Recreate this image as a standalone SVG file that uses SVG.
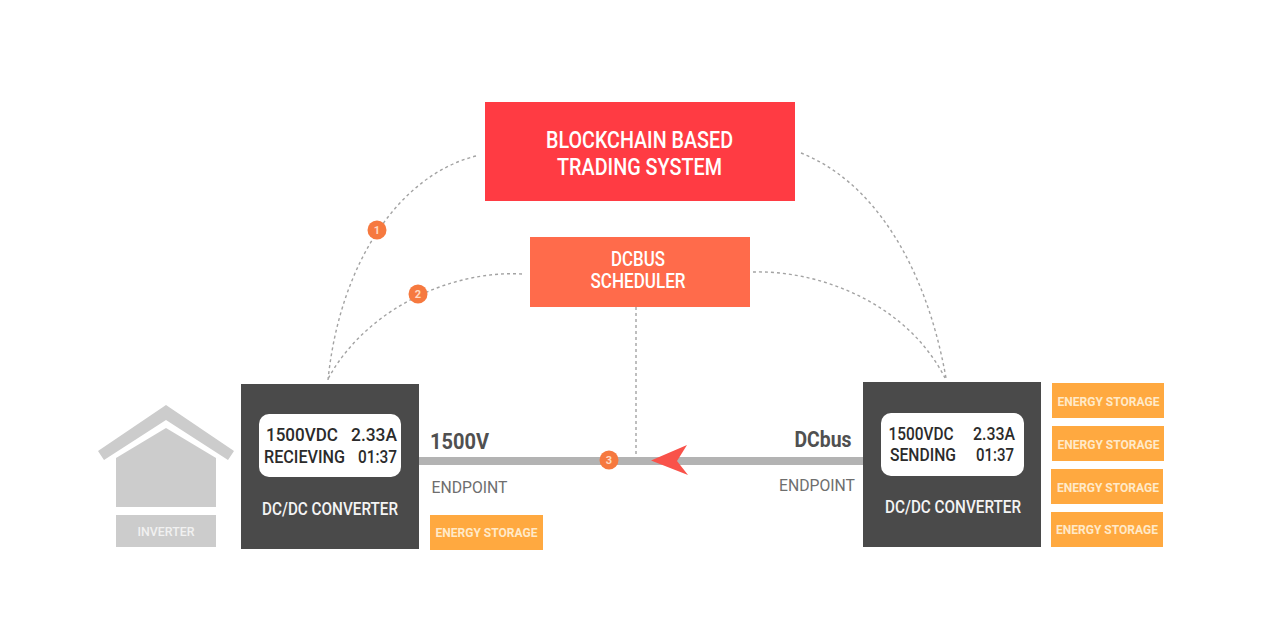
<svg xmlns="http://www.w3.org/2000/svg" width="1280" height="640" viewBox="0 0 1280 640">
<style>
text{font-family:"Roboto","Liberation Sans",sans-serif;text-anchor:middle;font-weight:500}
.w{fill:#fff}
.st{fill:#ffa940}
.stt{fill:#ffe9c9;font-size:12.5px;font-weight:700}
.dk{fill:#4a4a4a}
.scr{fill:#2b2b2b;font-size:18.500px}
.t{fill:#f4f4f4;font-size:18px}
.ep{fill:#6e6e6e;font-size:17px;font-weight:400}
.lab{fill:#505050;font-size:22px;font-weight:700}
.big{fill:#fff;font-size:23px}
.n{fill:#ffd9c2;font-size:11px;font-weight:700}
.c{fill:#f6793f}
.d{fill:none;stroke:#a3a3a3;stroke-width:1.4;stroke-dasharray:3 3}
</style>
<rect width="1280" height="640" fill="#fff"/>
<g id="connectors">
<path class="d" d="M476 156C400 175 340 262 328 380"/>
<path class="d" d="M522 274C450 270 365 310 328 379"/>
<path class="d" d="M801 153C870 180 925 260 946 378"/>
<path class="d" d="M753 272C815 270 905 300 945 378"/>
<path class="d" d="M636 307V457"/>
<rect x="419" y="457" width="444" height="8" fill="#b3b3b3"/>
<path d="M651 460.500L687 445L677 461L688 475Z" fill="#f9524a"/>
</g>
<g id="trading">
<rect x="485" y="102" width="310" height="99" fill="#ff3b43"/>
<text class="big" x="639.500" y="148" textLength="187" lengthAdjust="spacingAndGlyphs">BLOCKCHAIN BASED</text>
<text class="big" x="639.500" y="175" textLength="165" lengthAdjust="spacingAndGlyphs">TRADING SYSTEM</text>
</g>
<g id="scheduler">
<rect x="530" y="237" width="220" height="70" fill="#ff6b4b"/>
<text class="w" x="638" y="266" font-size="19.500" textLength="54" lengthAdjust="spacingAndGlyphs">DCBUS</text>
<text class="w" x="638" y="288" font-size="19.500" textLength="95" lengthAdjust="spacingAndGlyphs">SCHEDULER</text>
</g>
<g id="badge1"><circle class="c" cx="377" cy="230" r="9.500"/><text class="n" x="377" y="234">1</text></g>
<g id="badge2"><circle class="c" cx="418" cy="294" r="9.500"/><text class="n" x="418" y="298">2</text></g>
<g id="badge3"><circle class="c" cx="609" cy="460" r="9.500"/><text class="n" x="609" y="464">3</text></g>
<g id="house">
<path d="M98 451L166 405L234 451L228 460L166 420L104 460Z" fill="#cccccc"/>
<path d="M116 507V458L166 428L216 458V507Z" fill="#cccccc"/>
</g>
<g id="inverter">
<rect x="116" y="515" width="100" height="32" fill="#cccccc"/>
<text x="166" y="536" font-size="13" fill="#f1f1f1" textLength="57" lengthAdjust="spacingAndGlyphs">INVERTER</text>
</g>
<g id="left-converter">
<rect class="dk" x="241" y="384" width="178" height="165"/>
<rect x="259" y="414" width="142" height="63" rx="10" fill="#fff"/>
<text class="scr" x="302" y="441" textLength="72" lengthAdjust="spacingAndGlyphs">1500VDC</text>
<text class="scr" x="374" y="441" textLength="46" lengthAdjust="spacingAndGlyphs">2.33A</text>
<text class="scr" x="304.500" y="463" textLength="81" lengthAdjust="spacingAndGlyphs">RECIEVING</text>
<text class="scr" x="377.500" y="463" textLength="39" lengthAdjust="spacingAndGlyphs">01:37</text>
<text class="t" x="330" y="515" textLength="136" lengthAdjust="spacingAndGlyphs">DC/DC CONVERTER</text>
</g>
<g id="right-converter">
<rect class="dk" x="863" y="382" width="178" height="165"/>
<rect x="881" y="413" width="143" height="63" rx="10" fill="#fff"/>
<text class="scr" x="921" y="440" textLength="65" lengthAdjust="spacingAndGlyphs">1500VDC</text>
<text class="scr" x="994" y="440" textLength="42" lengthAdjust="spacingAndGlyphs">2.33A</text>
<text class="scr" x="923" y="461" textLength="66" lengthAdjust="spacingAndGlyphs">SENDING</text>
<text class="scr" x="995" y="461" textLength="38" lengthAdjust="spacingAndGlyphs">01:37</text>
<text class="t" x="953" y="513" textLength="136" lengthAdjust="spacingAndGlyphs">DC/DC CONVERTER</text>
</g>
<g id="storage-left"><rect class="st" x="430" y="515" width="113" height="35"/><text class="stt" x="486.500" y="537" textLength="102" lengthAdjust="spacingAndGlyphs">ENERGY STORAGE</text></g>
<g id="storage-r1"><rect class="st" x="1052" y="383" width="112" height="35"/><text class="stt" x="1108.500" y="406" textLength="102" lengthAdjust="spacingAndGlyphs">ENERGY STORAGE</text></g>
<g id="storage-r2"><rect class="st" x="1052" y="426" width="112" height="35"/><text class="stt" x="1108.500" y="449" textLength="102" lengthAdjust="spacingAndGlyphs">ENERGY STORAGE</text></g>
<g id="storage-r3"><rect class="st" x="1051" y="469" width="112" height="35"/><text class="stt" x="1108" y="492" textLength="102" lengthAdjust="spacingAndGlyphs">ENERGY STORAGE</text></g>
<g id="storage-r4"><rect class="st" x="1051" y="512" width="112" height="35"/><text class="stt" x="1107" y="534" textLength="102" lengthAdjust="spacingAndGlyphs">ENERGY STORAGE</text></g>
<g id="labels">
<text class="lab" x="459.500" y="449" textLength="59" lengthAdjust="spacingAndGlyphs">1500V</text>
<text class="ep" x="469.500" y="493" textLength="76" lengthAdjust="spacingAndGlyphs">ENDPOINT</text>
<text class="lab" x="823" y="447" textLength="57" lengthAdjust="spacingAndGlyphs">DCbus</text>
<text class="ep" x="817" y="491" textLength="76" lengthAdjust="spacingAndGlyphs">ENDPOINT</text>
</g>
</svg>
